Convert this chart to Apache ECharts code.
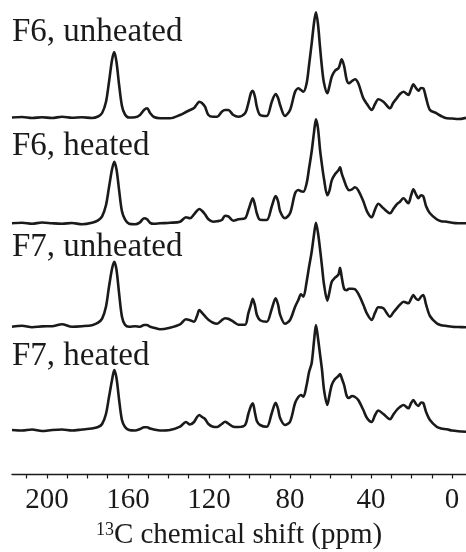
<!DOCTYPE html>
<html><head><meta charset="utf-8">
<script src="https://cdn.jsdelivr.net/npm/echarts@6/dist/echarts.min.js"></script>
<style>html,body{margin:0;padding:0;background:#fff}#c{width:466px;height:552px}</style>
</head><body><div id="c"></div>
<script>
// chemical shift (ppm), shared by all four spectra
const ppm = [217.3,212.3,207.4,202.5,197.5,192.6,187.7,182.7,177.8,174.8,
172.8,170.9,169.4,167.9,166.8,165.7,164.4,163.0,161.5,159.5,
156.5,154.1,152.1,150.6,149.1,147.2,144.2,139.3,134.3,131.4,
129.4,127.4,125.9,124.8,123.5,122.0,120.3,118.0,116.0,113.7,
112.1,110.5,108.0,105.5,102.2,100.6,99.3,98.4,97.3,96.4,
94.8,91.5,89.0,87.1,85.9,84.9,82.5,80.0,77.5,75.9,
74.6,73.4,71.8,70.6,69.3,68.1,67.2,66.2,65.2,64.2,
63.2,61.6,60.5,59.4,57.8,56.1,55.3,54.5,53.3,52.0,
50.9,49.4,47.9,46.3,43.8,42.0,39.7,38.0,36.4,33.9,
30.6,29.1,27.3,25.7,24.0,21.6,20.2,19.1,17.8,16.6,
15.3,14.2,12.8,10.9,7.6,5.4,2.6,0,-3.0,-6.9];

const f6Unheated = [-0.2,0.3,-0.7,0,-0.7,0.5,-0.5,0.1,-0.7,0.8,
4.3,15.3,35.3,57.3,65.3,55.3,32.3,11.3,2.8,-0.2,
0,2.3,7.3,9,4.3,0.3,-1,-1,2.3,5.3,
7.3,9.3,13.3,15.6,14.3,10.6,2.3,0.6,0.6,5.6,
7.3,7.3,2.3,0.6,4,14,24.3,26.6,20.3,10.6,
2.3,1.3,15.6,23.3,19.3,12.3,1.3,7.3,25.6,29,
27.3,25.6,34,52.3,74,95.3,105,93.3,70.6,49.3,
34,24,31.3,40.6,46.6,49,53.3,58,51.3,37.3,
34,36.3,38,34,19,13.3,7.3,13.3,18,15.6,
9,14.3,19,23.3,25.6,22.3,28.3,33,29.3,26.6,
29.3,29,19.3,7.3,4,1.3,-1,-1.2,-1.7,-0.5];

const f6Heated = [0,0.5,-0.5,0.8,0,-0.5,0.3,-1,0.5,3,
7,18,36,54,61.6,54,33,12,4,-0.5,
-1,1,5,4,0.5,-0.5,0,0.5,1.6,6,
5,9,12.6,14.3,12.5,9,4,1.6,2,3.3,
7.5,7,2.6,4,5,13,21,25,18,10,
3.5,3.3,17,27.3,22,12,5,10,30,33.3,
32,31.6,40,55,72,92,104,95,74,58,
44,28,33,43,49,53,56,50,43,36,
33,34,36,33,22,12,6,14,19.5,15,
10,14,19,21.6,25,20,28,34,29,25,
28,27,17,10,4,2,1.6,0.5,0,0];

const f7Unheated = [0,1,-0.5,0.3,0.5,2.5,0,0.5,1.5,4,
8,20,40,58,65,57,33,10,2,0,
0.5,0,1.7,1.7,0,-1,-2.6,-1,2.4,7.5,
6.5,5,11,16.7,14,10.5,7,4,3,6.5,
8.5,8,5,2,2,13.4,22,28,21,12,
6.5,5,18,28.4,22,12,3,6.7,20,26.7,
32.5,30,45,60,75,93,104,94,78,60,
42,26,35,45,49,52,59,50,38,36.5,
38,38,37.4,33,22,13,6.7,14,19.4,18.4,
10,14,18.4,22,25,23.4,28,31.7,28,26.7,
30,31.7,22,10.7,3.4,1.5,0.7,0,-0.3,-0.6];

const f7Heated = [0,-0.5,0.5,-1,0,0.5,-0.5,0.5,1.5,3,
6,16,33,50,60,52,30,10,3,0,
-0.5,1,2.7,2.7,1.5,0.5,-0.5,0,3.3,8,
5.5,8,13,15,13,11,6,3.3,3,6,
8.3,6.5,3.3,3,5,16,24,26.7,17,9,
5,3.3,17,27.3,21,12,5,8.3,27,33,
35,33.3,45,58,67,90,105,92,76,60,
40,25,35,45,51,54,56,52,45,34,
32,34,33,30,20,12,8,15,19.5,16,
10.7,15,20,23,25,21.7,27,30,26,24,
27.5,27,18,10,3.3,1.5,0.7,-0.5,-1.2,-1.7];

const labels = ['F6, unheated','F6, heated','F7, unheated','F7, heated'];
const spectra = [f6Unheated, f6Heated, f7Unheated, f7Heated];
const tickLabelStep = 40;
const axisTitle = '{sup|13}C chemical shift (ppm)';

const FONT = '"Liberation Serif","Times New Roman",serif';
const INK = '#1a1a1a';
const baselines = [117.3, 223.3, 326.7, 430];
const labelY = [32.5, 146, 247.5, 356];

const grids = [], xAxes = [], yAxes = [], series = [], graphics = [];
spectra.forEach((vals, i) => {
  grids.push({left: 12, right: 0, top: baselines[i] - 110, height: 120, outerBoundsMode: 'none', containLabel: false});
  xAxes.push({type: 'value', gridIndex: i, min: -6.9, max: 217.3, inverse: true, show: false});
  yAxes.push({type: 'value', gridIndex: i, min: -10, max: 110, show: false});
  series.push({
    type: 'line', xAxisIndex: i, yAxisIndex: i, showSymbol: false, smooth: 0.3,
    data: ppm.map((p, k) => [p, vals[k]]),
    lineStyle: {color: INK, width: 2.6}, itemStyle: {color: INK}, animation: false
  });
  graphics.push({type: 'text', x: 12, y: labelY[i],
    style: {text: labels[i], font: '33px ' + FONT, fill: INK, verticalAlign: 'middle'}});
});
// axis line grid
grids.push({left: 12, right: 0, top: 464, height: 10, outerBoundsMode: 'none', containLabel: false});
xAxes.push({type: 'value', gridIndex: 4, min: -6.9, max: 217.3, inverse: true,
  axisLine: {show: true, lineStyle: {color: INK, width: 1.3}}, axisTick: {show: false},
  axisLabel: {show: false}, splitLine: {show: false},
  name: axisTitle, nameLocation: 'middle', nameGap: 47,
  nameTextStyle: {fontFamily: FONT, fontSize: 29, color: INK,
    rich: {sup: {fontFamily: FONT, fontSize: 18, color: INK, verticalAlign: 'top', padding: [0,0,11,0]}}}});
yAxes.push({type: 'value', gridIndex: 4, show: false});
// tick grid
grids.push({left: 26.7, width: 445.6, top: 464, height: 10, outerBoundsMode: 'none', containLabel: false});
xAxes.push({type: 'value', gridIndex: 5, min: -10, max: 210, interval: 10, inverse: true,
  axisLine: {show: false}, splitLine: {show: false},
  axisTick: {show: true, length: 4.5, inside: false, lineStyle: {color: INK, width: 1.2}},
  axisLabel: {show: true, margin: 12, fontFamily: FONT, fontSize: 29, color: INK,
    showMinLabel: true, showMaxLabel: true, hideOverlap: false,
    formatter: v => (v % tickLabelStep === 0 && v >= 0 && v <= 200) ? String(v) : ''}});
yAxes.push({type: 'value', gridIndex: 5, show: false});

const chart = echarts.init(document.getElementById('c'), null, {renderer: 'canvas'});
chart.setOption({animation: false, grid: grids, xAxis: xAxes, yAxis: yAxes, series, graphic: graphics});
</script></body></html>
